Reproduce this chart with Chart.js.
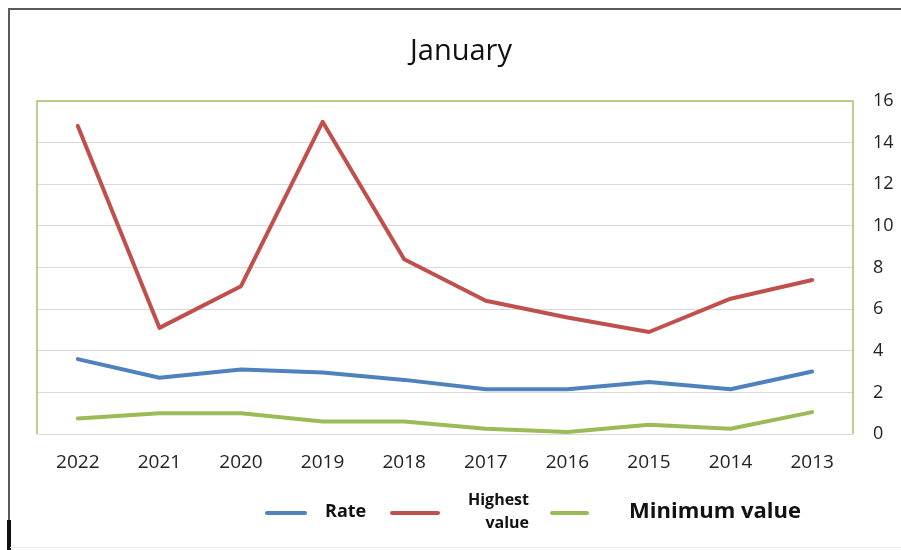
<!DOCTYPE html>
<html>
<head>
<meta charset="utf-8">
<script src="https://cdn.jsdelivr.net/npm/chart.js@4/dist/chart.umd.min.js"></script>
<style>
  html, body { margin: 0; padding: 0; background: #fff; }
  #wrap { position: relative; width: 901px; height: 550px; overflow: hidden; background: #fff; }
  #frame { position: absolute; left: 8px; top: 8px; width: 910px; height: 560px;
           border-top: 2px solid #5a5a5a; border-left: 2px solid #5a5a5a; pointer-events: none; }
  #frameDark { position: absolute; left: 7px; top: 520px; width: 4px; height: 30px; background: #111; pointer-events: none; }
  #frameBottom { position: absolute; left: 10px; top: 547px; width: 891px; height: 1px; background: #ececec; pointer-events: none; }
  canvas { position: absolute; left: 0; top: 0; }
</style>
</head>
<body>
<div id="wrap">
  <canvas id="c" width="901" height="550"></canvas>
  <div id="frame"></div>
  <div id="frameDark"></div>
  <div id="frameBottom"></div>
</div>
<script>
// ---- data ----
const categories = ["2022", "2021", "2020", "2019", "2018", "2017", "2016", "2015", "2014", "2013"];
const rateValues = [3.6, 2.7, 3.1, 2.95, 2.6, 2.15, 2.15, 2.5, 2.15, 3.0];
const highestValues = [14.8, 5.1, 7.1, 15.0, 8.4, 6.4, 5.6, 4.9, 6.5, 7.4];
const minimumValues = [0.75, 1.0, 1.0, 0.6, 0.6, 0.25, 0.1, 0.45, 0.25, 1.05];
const yTicks = [0, 2, 4, 6, 8, 10, 12, 14, 16];
const chartTitle = "January";
const seriesNames = ["Rate", "Highest value", "Minimum value"];

const colors = ["#4f81bd", "#c0504d", "#9bbb59"];
const FONT = "'Open Sans', 'Liberation Sans', sans-serif";

// plot-area border (left, top, right) in green
const plotBorder = {
  id: 'plotBorder',
  afterDraw(chart) {
    const a = chart.chartArea, ctx = chart.ctx;
    ctx.save();
    ctx.strokeStyle = '#a5c46a';
    ctx.lineWidth = 1.5;
    ctx.beginPath();
    ctx.moveTo(a.left, a.bottom);
    ctx.lineTo(a.left, a.top);
    ctx.lineTo(a.right, a.top);
    ctx.lineTo(a.right, a.bottom);
    ctx.stroke();
    ctx.restore();
  }
};

const bgPlugin = {
  id: 'bg',
  beforeDraw(chart) {
    const ctx = chart.ctx;
    ctx.save();
    ctx.fillStyle = '#fff';
    ctx.fillRect(0, 0, chart.width, chart.height);
    ctx.restore();
  }
};

// custom legend mimicking the reference (different sizes per item)
const legendItems = [
  { line: [267, 305], text: [seriesNames[0]], align: 'left', x: 325, ys: [512], size: 18 },
  { line: [392, 438], text: ["Highest", "value"], align: 'right', x: 529, ys: [500, 523], size: 16 },
  { line: [552, 587], text: [seriesNames[2]], align: 'left', x: 629, ys: [512], size: 22 }
];
const customLegend = {
  id: 'customLegend',
  afterDraw(chart) {
    const ctx = chart.ctx;
    ctx.save();
    chart.data.datasets.forEach((ds, i) => {
      const it = legendItems[i];
      ctx.strokeStyle = ds.borderColor;
      ctx.lineWidth = 4;
      ctx.lineCap = 'round';
      ctx.beginPath();
      ctx.moveTo(it.line[0], 513);
      ctx.lineTo(it.line[1], 513);
      ctx.stroke();
      ctx.fillStyle = '#111';
      ctx.font = 'bold ' + it.size + 'px ' + FONT;
      ctx.textAlign = it.align;
      ctx.textBaseline = 'middle';
      it.text.forEach((t, k) => ctx.fillText(t, it.x, it.ys[k]));
    });
    ctx.restore();
  }
};

new Chart(document.getElementById('c'), {
  type: 'line',
  data: {
    labels: categories,
    datasets: [
      { label: seriesNames[0], data: rateValues, borderColor: colors[0], backgroundColor: colors[0] },
      { label: seriesNames[1], data: highestValues, borderColor: colors[1], backgroundColor: colors[1] },
      { label: seriesNames[2], data: minimumValues, borderColor: colors[2], backgroundColor: colors[2] }
    ]
  },
  options: {
    responsive: false,
    animation: false,
    devicePixelRatio: 1,
    layout: { padding: { left: 21, right: 0, top: 0, bottom: 0 } },
    elements: {
      line: { borderWidth: 4, tension: 0, borderCapStyle: 'round', borderJoinStyle: 'round' },
      point: { radius: 0, hoverRadius: 0 }
    },
    plugins: {
      legend: { display: false },
      tooltip: { enabled: false },
      title: {
        display: true,
        text: chartTitle,
        color: '#111',
        font: { family: FONT, size: 29, weight: 'normal' },
        padding: { top: 34, bottom: 32.2 }
      }
    },
    scales: {
      x: {
        type: 'category',
        offset: true,
        grid: { display: false, drawTicks: false },
        border: { display: false },
        ticks: { color: '#222', font: { family: FONT, size: 19 }, padding: 17, maxRotation: 0, autoSkip: false },
        afterFit(s) { s.height = 116; }
      },
      y: {
        position: 'right',
        min: 0, max: 16,
        afterBuildTicks(s) { s.ticks = yTicks.map(v => ({ value: v })); },
        grid: { color: '#d9d9d9', lineWidth: 1, drawTicks: false },
        border: { display: false },
        ticks: { color: '#222', font: { family: FONT, size: 18 }, padding: 20, crossAlign: 'near' },
        afterFit(s) { s.width = 48; }
      },
      yLeft: {
        position: 'left',
        display: true,
        min: 0, max: 16,
        grid: { display: false, drawTicks: false },
        border: { display: false },
        ticks: { display: false },
        afterFit(s) { s.width = 16; }
      }
    }
  },
  plugins: [bgPlugin, plotBorder, customLegend]
});
</script>
</body>
</html>
